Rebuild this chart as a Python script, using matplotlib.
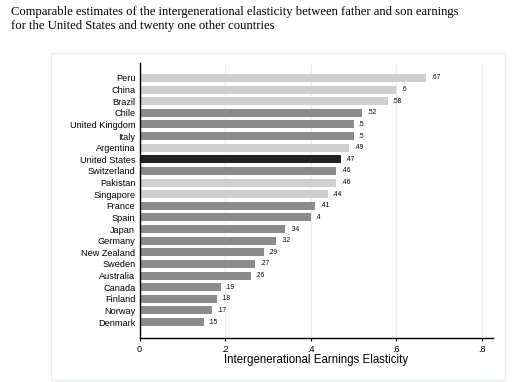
import matplotlib
matplotlib.use("Agg")
import matplotlib.pyplot as plt
from matplotlib.patches import Rectangle
import numpy as np

countries = ["Peru", "China", "Brazil", "Chile", "United Kingdom", "Italy", "Argentina",
             "United States", "Switzerland", "Pakistan", "Singapore", "France", "Spain",
             "Japan", "Germany", "New Zealand", "Sweden", "Australia", "Canada", "Finland",
             "Norway", "Denmark"]
values = [0.67, 0.60, 0.58, 0.52, 0.50, 0.50, 0.49, 0.47, 0.46, 0.46, 0.44, 0.41, 0.40,
          0.34, 0.32, 0.29, 0.27, 0.26, 0.19, 0.18, 0.17, 0.15]
value_labels = [".67", ".6", ".58", ".52", ".5", ".5", ".49", ".47", ".46", ".46", ".44",
                ".41", ".4", ".34", ".32", ".29", ".27", ".26", ".19", ".18", ".17", ".15"]
group = ["light", "light", "light", "dark", "dark", "dark", "light", "us", "dark", "light",
         "light", "dark", "dark", "dark", "dark", "dark", "dark", "dark", "dark", "dark",
         "dark", "dark"]
xticks = [0, 0.2, 0.4, 0.6, 0.8]
xticklabels = ["0", ".2", ".4", ".6", ".8"]

palette = {"light": "#cfcfcf", "dark": "#8c8c8c", "us": "#222222"}

W, H = 515, 382
fig = plt.figure(figsize=(W / 100, H / 100), dpi=100)
fig.patch.set_facecolor("white")

# outer frame
frame = Rectangle((51 / W, 1 - 380 / H), 454 / W, 327 / H, transform=fig.transFigure,
                  facecolor="white", edgecolor="#e6edf0", linewidth=1.0, zorder=-5)
fig.add_artist(frame)

fig.text(11 / W, 1 - 6 / H,
         "Comparable estimates of the intergenerational elasticity between father and son earnings\n"
         "for the United States and twenty one other countries",
         ha="left", va="top", family="Liberation Serif", fontsize=9.1, linespacing=1.2)

ax = fig.add_axes([139.5 / W, 1 - 337.7 / H, (493 - 139.5) / W, (337.7 - 63) / H])
ax.set_facecolor("none")
ax.set_zorder(2)

n = len(countries)
ypos = np.arange(n)[::-1]
colors = [palette[g] for g in group]
ax.barh(ypos, values, height=0.69, color=colors, zorder=2)

for y, v, lab in zip(ypos, values, value_labels):
    ax.annotate(lab, (v, y), xytext=(3.6, 0), textcoords="offset points",
                ha="left", va="center", fontsize=4.8, family="Liberation Sans", color="black")

ax.set_ylim(-1.35, n - 1 + 1.29)
ax.set_xlim(0, (493 - 139.5) / 428.0)
ax.set_yticks(ypos)
ax.set_yticklabels(countries, family="Liberation Sans", fontsize=6.6)
ax.tick_params(axis="y", length=0, pad=3)
ax.set_xticks(xticks)
ax.set_xticklabels(xticklabels, family="Liberation Sans", fontsize=6.6)
ax.tick_params(axis="x", length=2.5, width=0.8, pad=2.5, direction="out")

ax.grid(axis="x", color="#e8f0f2", linewidth=0.9, zorder=0)
ax.set_axisbelow(True)
for s in ["top", "right"]:
    ax.spines[s].set_visible(False)
for s in ["left", "bottom"]:
    ax.spines[s].set_linewidth(1.0)
    ax.spines[s].set_color("black")

ax.set_xlabel("Intergenerational Earnings Elasticity", family="Liberation Sans", fontsize=8.3,
              labelpad=0.5)

fig.savefig("out.png", dpi=100, facecolor="white")
